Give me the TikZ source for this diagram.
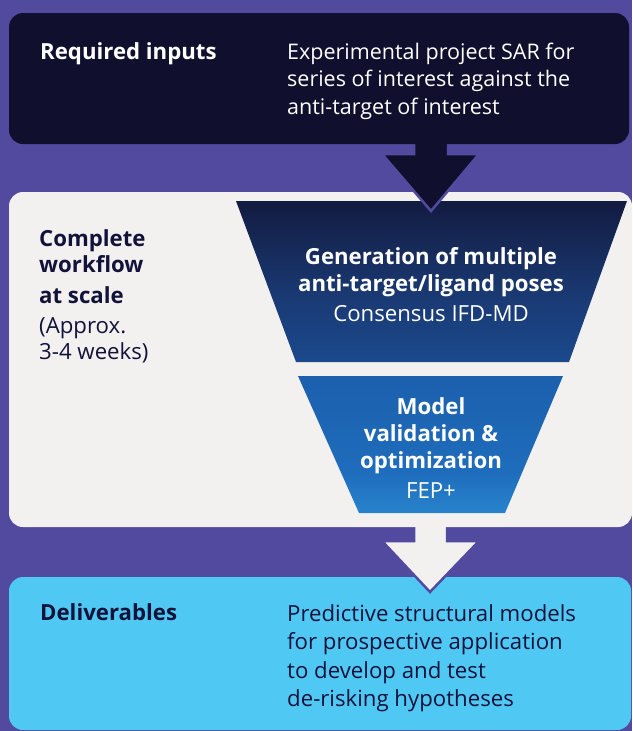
\documentclass[tikz,border=0pt]{standalone}
\usepackage{fontspec}
\setmainfont{Open Sans}
\definecolor{bgpurple}{HTML}{524A9E}
\definecolor{navy}{HTML}{10102E}
\definecolor{lightgrey}{HTML}{F2F1EF}
\definecolor{skyblue}{HTML}{4FC9F3}
\definecolor{txtdark}{HTML}{12123A}
\definecolor{faA}{HTML}{1B5CAA}
\definecolor{faB}{HTML}{1A3A74}
\definecolor{faC}{HTML}{10112F}
\definecolor{fbA}{HTML}{55CCF4}
\definecolor{fbB}{HTML}{2A88CF}
\definecolor{fbC}{HTML}{1E6DBC}
\definecolor{fbD}{HTML}{1A56A3}
\pgfdeclareverticalshading{funnelA}{100bp}{color(0bp)=(faA); color(45bp)=(faB); color(85bp)=(faC); color(100bp)=(faC)}
\pgfdeclareverticalshading{funnelB}{100bp}{color(0bp)=(fbA); color(22bp)=(fbB); color(40bp)=(fbC); color(100bp)=(fbD)}
\tikzset{
  txt/.style={inner sep=0pt, font=\fontsize{22.2}{27}\selectfont},
  smalltxt/.style={inner sep=0pt, font=\fontsize{21.5}{27}\selectfont},
  boldtxt/.style={txt, font=\fontsize{22.2}{27}\selectfont\bfseries},
  lefttxt/.style={anchor=base west},
  midtxt/.style={anchor=base},
  blockarrow/.style={draw=bgpurple, line width=2.5pt, line join=miter},
  panel/.style={rounded corners=14pt}
}
\begin{document}
\begin{tikzpicture}[x=1pt,y=-1pt]
\useasboundingbox (0,0) rectangle (632,731);
\fill[bgpurple] (0,0) rectangle (632,731);
% bottom panel
\fill[skyblue, panel] (9,577) rectangle (631,730);
% arrow 2
\filldraw[lightgrey, blockarrow] (414,515) -- (414,541) -- (382,541) -- (430,592) -- (479,541) -- (447,541) -- (447,515) -- cycle;
% middle panel
\fill[lightgrey, panel] (9,192) rectangle (632,527);
% funnel
\shade[shading=funnelA] (236,201) -- (627,201) -- (569,362) -- (296,362) -- cycle;
\shade[shading=funnelB] (298,376) -- (563,376) -- (505,513) -- (359,513) -- cycle;
% arrow 1
\filldraw[navy, blockarrow] (414,130) -- (414,154) -- (382,154) -- (431,211) -- (479,154) -- (448,154) -- (448,130) -- cycle;
% top panel
\fill[navy, panel] (9,13) rectangle (629,144);

% top texts
\node[boldtxt, lefttxt, text=white] (req) at (40,59) {Required inputs};
\node[smalltxt, lefttxt, text=white] (reqa) at (287,59) {Experimental project SAR for};
\node[smalltxt, lefttxt, text=white] (reqb) at (287,86.5) {series of interest against the};
\node[smalltxt, lefttxt, text=white] (reqc) at (287,114) {anti-target of interest};

% middle left texts
\node[boldtxt, lefttxt, text=txtdark] (cwa) at (39,246) {Complete};
\node[boldtxt, lefttxt, text=txtdark] (cwb) at (39,272) {workflow};
\node[boldtxt, lefttxt, text=txtdark] (cwc) at (39,303) {at scale};
\node[txt, lefttxt, text=txtdark] (cwd) at (39,333) {(Approx.};
\node[txt, lefttxt, text=txtdark] (cwe) at (39,359) {3-4 weeks)};

% funnel texts
\node[boldtxt, midtxt, text=white] (ga) at (431,264) {Generation of multiple};
\node[boldtxt, midtxt, text=white] (gb) at (431,291) {anti-target/ligand poses};
\node[txt, midtxt, text=white] (gc) at (431,321) {Consensus IFD-MD};
\node[boldtxt, midtxt, text=white] (ma) at (431,414) {Model};
\node[boldtxt, midtxt, text=white] (mb) at (431,441) {validation \&};
\node[boldtxt, midtxt, text=white] (mc) at (431,468) {optimization};
\node[txt, midtxt, text=white] (md) at (431,498) {FEP+};

% bottom texts
\node[boldtxt, lefttxt, text=txtdark] (del) at (40,620) {Deliverables};
\node[txt, lefttxt, text=txtdark] (dla) at (287,621) {Predictive structural models};
\node[txt, lefttxt, text=txtdark] (dlb) at (287,649) {for prospective application};
\node[txt, lefttxt, text=txtdark] (dlc) at (287,678) {to develop and test};
\node[txt, lefttxt, text=txtdark] (dld) at (287,706) {de-risking hypotheses};
\end{tikzpicture}
\end{document}
